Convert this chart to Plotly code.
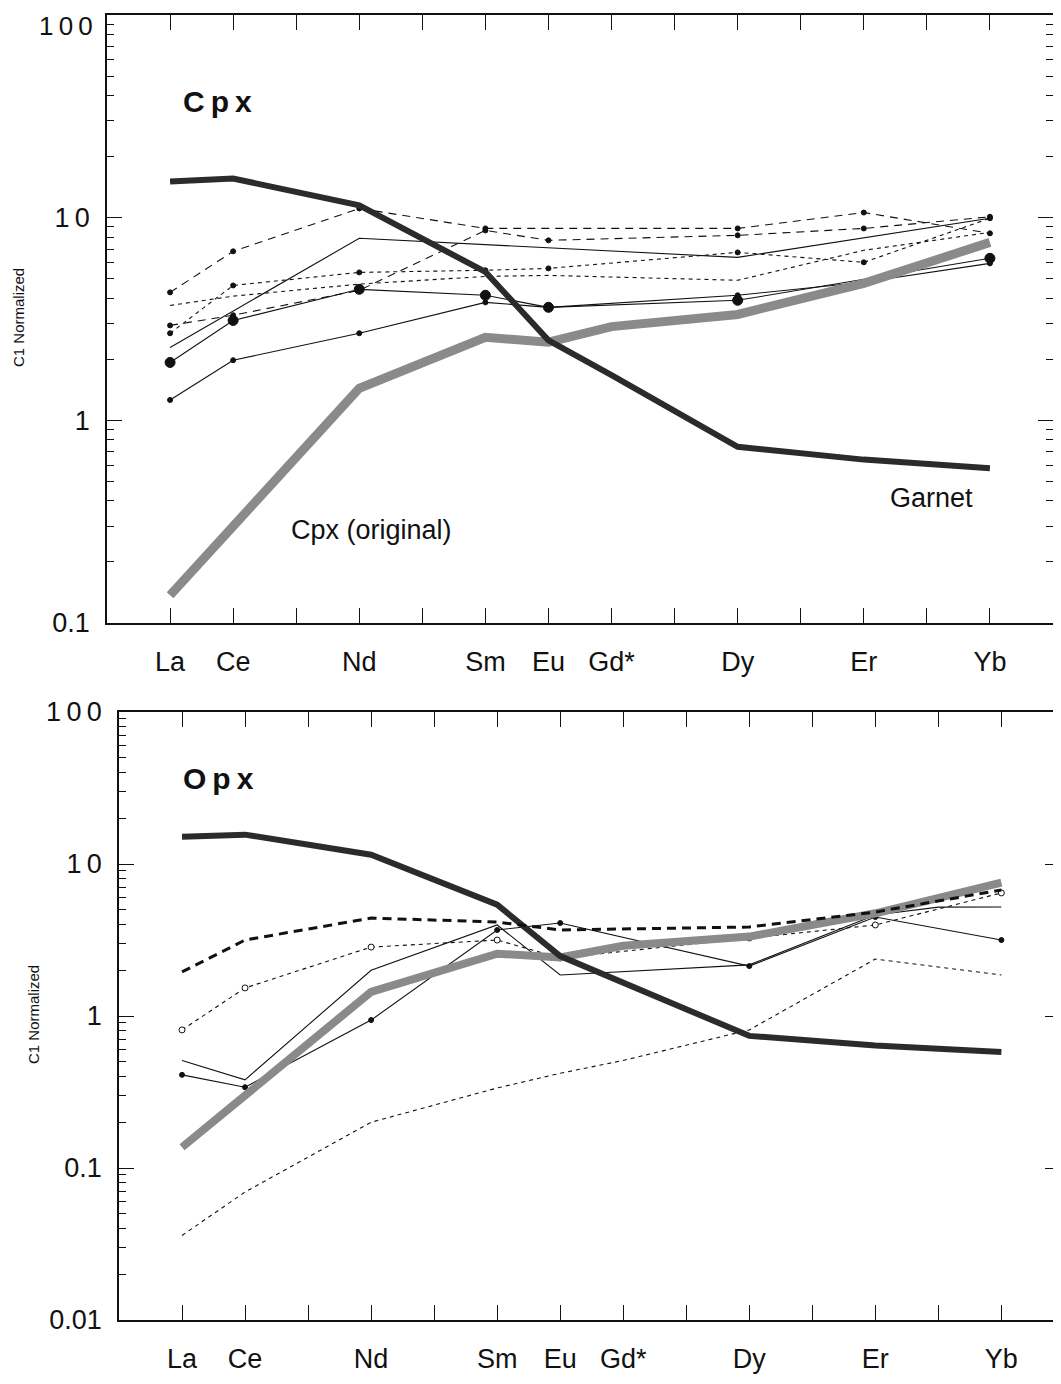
import plotly.graph_objects as go

# page is drawn inside the default 8px body margin
PAGE_OFF = 8
W, H = 1053, 1368

# ---------------- data ----------------
REE = ["La", "Ce", "Pr", "Nd", "Pm", "Sm", "Eu", "Gd", "Tb", "Dy", "Ho", "Er", "Tm", "Yb"]
REE_LABELS = ["La", "Ce", "", "Nd", "", "Sm", "Eu", "Gd*", "", "Dy", "", "Er", "", "Yb"]

garnet_el = ["La", "Ce", "Nd", "Sm", "Eu", "Gd", "Dy", "Er", "Yb"]
garnet_val = [15.1, 15.6, 11.5, 5.4, 2.48, 1.67, 0.74, 0.64, 0.58]

cpx_orig_el = ["La", "Ce", "Nd", "Sm", "Eu", "Gd", "Dy", "Er", "Yb"]
cpx_orig_val = [0.137, 0.30, 1.44, 2.57, 2.43, 2.9, 3.33, 4.74, 7.55]

# Cpx panel (thin lines)
cpx_a_el = ["La", "Ce", "Nd", "Sm", "Eu", "Dy", "Yb"]
cpx_a_val = [1.93, 3.11, 4.43, 4.14, 3.61, 3.91, 6.30]

cpx_b_el = ["La", "Ce", "Nd", "Sm", "Eu", "Dy", "Er", "Yb"]
cpx_b_val = [1.26, 1.98, 2.69, 3.82, 3.61, 4.14, 4.80, 5.95]

cpx_c_el = ["La", "Nd", "Dy", "Yb"]
cpx_c_val = [2.29, 7.91, 6.37, 9.93]

cpx_d1_el = ["La", "Ce", "Nd", "Sm", "Dy", "Er", "Yb"]
cpx_d1_val = [4.28, 6.82, 11.1, 8.85, 8.85, 10.6, 8.37]

cpx_d2_el = ["La", "Ce", "Nd", "Sm", "Eu", "Dy", "Er", "Yb"]
cpx_d2_val = [2.94, 3.3, 4.38, 8.65, 7.73, 8.18, 8.85, 10.1]

cpx_e_el = ["La", "Ce", "Nd", "Sm", "Eu", "Dy", "Er", "Yb"]
cpx_e_val = [2.69, 4.63, 5.37, 5.50, 5.62, 6.74, 6.02, 9.93]

cpx_f_el = ["La", "Ce", "Nd", "Sm", "Eu", "Dy", "Er", "Yb"]
cpx_f_val = [3.69, 4.1, 4.7, 5.13, 5.19, 4.91, 6.9, 8.46]

# Opx panel (thin lines)
opx_g_el = ["La", "Ce", "Nd", "Sm", "Eu", "Dy", "Er", "Yb"]
opx_g_val = [1.95, 3.16, 4.41, 4.15, 3.68, 3.85, 4.83, 6.75]

opx_h_el = ["La", "Ce", "Nd", "Sm", "Eu", "Dy", "Er", "Yb"]
opx_h_val = [0.81, 1.53, 2.84, 3.16, 2.41, 3.26, 3.97, 6.45]

opx_i_el = ["La", "Ce", "Nd", "Sm", "Eu", "Dy", "Er", "Tm", "Yb"]
opx_i_val = [0.51, 0.38, 2.0, 3.97, 1.86, 2.17, 4.62, 5.2, 5.21]

opx_j_el = ["La", "Ce", "Nd", "Sm", "Eu", "Dy", "Er", "Yb"]
opx_j_val = [0.41, 0.34, 0.94, 3.68, 4.09, 2.13, 4.48, 3.16]

opx_k_el = ["La", "Ce", "Nd", "Sm", "Eu", "Gd", "Dy", "Er", "Yb"]
opx_k_val = [0.036, 0.0695, 0.20, 0.336, 0.42, 0.51, 0.81, 2.37, 1.86]

# axis tick values
top_major = [0.1, 1, 10, 100]
top_major_text = ["0.1", "1", "1\u20090", ""]   # "100" drawn as annotation (edge of page)
top_label_100 = "1\u20090\u20090"
bot_major = [0.01, 0.1, 1, 10, 100]
bot_major_text = ["0.01", "0.1", "1", "1\u20090", "1\u20090\u20090"]
decades_top = [0.1, 1, 10]
decades_bot = [0.01, 0.1, 1, 10]
minor_mult = [2, 3, 4, 5, 6, 7, 8, 9]
top_minor = [d * m for d in decades_top for m in minor_mult]
bot_minor = [d * m for d in decades_bot for m in minor_mult]

# ---------------- figure ----------------
fig = go.Figure()
BLACK = "#111111"


def thin(x, y, xa, ya, dash="solid", msize=0, msym="circle", mfill=BLACK, width=1.1):
    mode = "lines+markers" if msize else "lines"
    fig.add_trace(go.Scatter(
        x=x, y=y, xaxis=xa, yaxis=ya, mode=mode,
        line=dict(color=BLACK, width=width, dash=dash),
        marker=dict(size=msize, symbol=msym, color=mfill,
                    line=dict(color=BLACK, width=1)),
        showlegend=False, hoverinfo="skip"))


def thick(xa, ya, gray_w=9, gar_w=6):
    fig.add_trace(go.Scatter(x=cpx_orig_el, y=cpx_orig_val, xaxis=xa, yaxis=ya,
                             mode="lines", line=dict(color="#8a8a8a", width=gray_w),
                             showlegend=False, hoverinfo="skip"))
    fig.add_trace(go.Scatter(x=garnet_el, y=garnet_val, xaxis=xa, yaxis=ya,
                             mode="lines", line=dict(color="#2b2b2b", width=gar_w),
                             showlegend=False, hoverinfo="skip"))


LD = "8px,6px"
SD = "4px,4px"

# top (Cpx)
thin(cpx_a_el, cpx_a_val, "x", "y", msize=10)
thin(cpx_b_el, cpx_b_val, "x", "y", msize=5)
thin(cpx_c_el, cpx_c_val, "x", "y")
thin(cpx_d1_el, cpx_d1_val, "x", "y", dash=LD, msize=5)
thin(cpx_d2_el, cpx_d2_val, "x", "y", dash=LD, msize=5)
thin(cpx_e_el, cpx_e_val, "x", "y", dash=SD, msize=5)
thin(cpx_f_el, cpx_f_val, "x", "y", dash=SD)
thick("x", "y")

# bottom (Opx)
thin(opx_k_el, opx_k_val, "x2", "y2", dash=SD)
thin(opx_i_el, opx_i_val, "x2", "y2")
thin(opx_j_el, opx_j_val, "x2", "y2", msize=5)
thin(opx_h_el, opx_h_val, "x2", "y2", dash=SD, msize=6, mfill="white")
thick("x2", "y2", gray_w=8, gar_w=6)
thin(opx_g_el, opx_g_val, "x2", "y2", dash="9px,6px", width=3)


def px_x(p):
    return (p - PAGE_OFF) / W


def px_y(p):
    return 1 - (p - PAGE_OFF) / H


FONT = "Liberation Sans, Arial, Helvetica, sans-serif"

xcommon = dict(type="category", categoryorder="array", categoryarray=REE,
               tickmode="array", tickvals=REE, ticktext=REE_LABELS,
               ticks="inside", ticklen=15, tickwidth=1.2, tickcolor=BLACK,
               showline=True, linecolor=BLACK, linewidth=1.5, mirror="ticks",
               showgrid=False, zeroline=False, automargin=False,
               tickfont=dict(size=27, color=BLACK, family=FONT),
               ticklabelstandoff=14)


def ycommon(major, major_text, minor_vals):
    return dict(type="log", tickmode="array", tickvals=major, ticktext=major_text,
                ticks="inside", ticklen=15, tickwidth=1.2, tickcolor=BLACK,
                minor=dict(tickmode="array", tickvals=minor_vals, ticks="inside",
                           ticklen=7, tickwidth=1, tickcolor=BLACK, showgrid=False),
                showline=True, linecolor=BLACK, linewidth=1.5, mirror="ticks",
                showgrid=False, zeroline=False, automargin=False,
                tickfont=dict(size=27, color=BLACK, family=FONT),
                ticklabelstandoff=10)


fig.update_layout(
    width=W, height=H,
    margin=dict(l=0, r=0, t=0, b=0, autoexpand=False),
    paper_bgcolor="white", plot_bgcolor="white",
    font=dict(family=FONT, color=BLACK),
    xaxis=dict(xcommon, domain=[px_x(107), px_x(1053)], range=[-1, 14], anchor="y"),
    yaxis=dict(ycommon(top_major, top_major_text, top_minor),
               domain=[px_y(623), px_y(15)], range=[-1, 2], anchor="x"),
    xaxis2=dict(xcommon, domain=[px_x(119), px_x(1060)], range=[-1, 13.93], anchor="y2"),
    yaxis2=dict(ycommon(bot_major, bot_major_text, bot_minor),
                domain=[px_y(1320), px_y(712)], range=[-2, 2], anchor="x2"),
)

ann = [
    dict(text="<b>C\u2009p\u2009x</b>", x=px_x(217), y=px_y(101), size=30, xa="center", ya="middle"),
    dict(text="<b>O\u2009p\u2009x</b>", x=px_x(218), y=px_y(778), size=30, xa="center", ya="middle"),
    dict(text="Cpx (original)", x=px_x(371), y=px_y(530), size=27, xa="center", ya="middle"),
    dict(text="Garnet", x=px_x(931), y=px_y(498), size=27, xa="center", ya="middle"),
    dict(text=top_label_100, x=px_x(95), y=px_y(9), size=26, xa="right", ya="top"),
]
for a in ann:
    fig.add_annotation(text=a["text"], x=a["x"], y=a["y"], xref="paper", yref="paper",
                       showarrow=False, xanchor=a["xa"], yanchor=a["ya"],
                       font=dict(size=a["size"], color=BLACK, family=FONT))

for (xx, yy) in [(18, 318), (33, 1015)]:
    fig.add_annotation(text="C1 Normalized", x=px_x(xx), y=px_y(yy), xref="paper", yref="paper",
                       showarrow=False, textangle=-90, xanchor="center", yanchor="middle",
                       font=dict(size=15, color=BLACK, family=FONT))

fig.write_html("out.html")
